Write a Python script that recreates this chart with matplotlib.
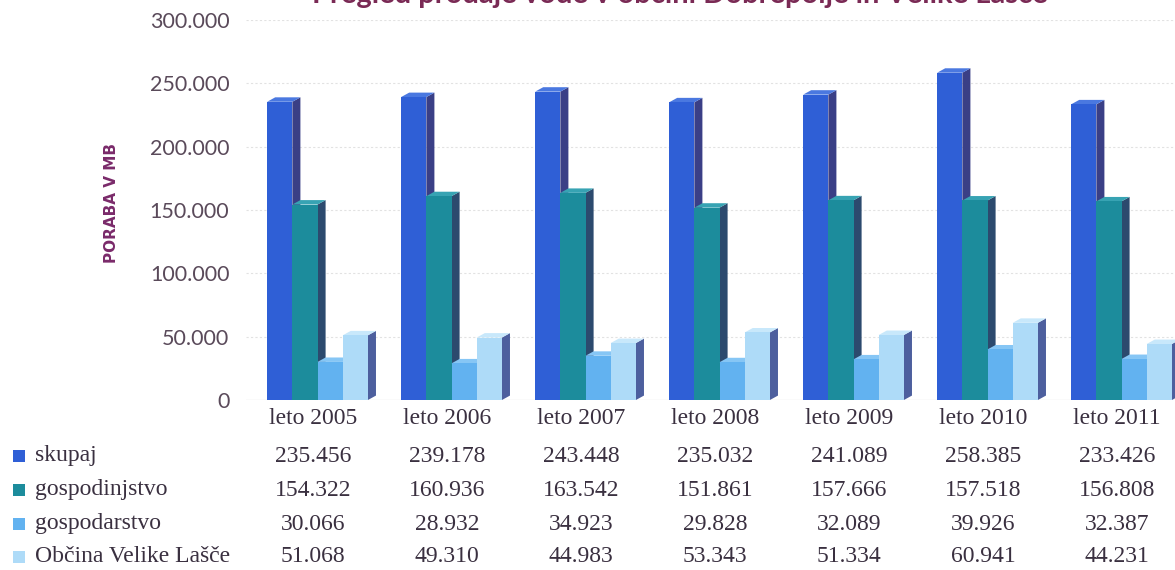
import matplotlib

matplotlib.use("Agg")
import matplotlib.pyplot as plt
import numpy as np
from matplotlib.patches import Polygon, Rectangle
from matplotlib.transforms import blended_transform_factory

years = ["leto 2005", "leto 2006", "leto 2007", "leto 2008",
         "leto 2009", "leto 2010", "leto 2011"]
series_names = ["skupaj", "gospodinjstvo", "gospodarstvo", "Občina Velike Lašče"]
skupaj = [235456, 239178, 243448, 235032, 241089, 258385, 233426]
gospodinjstvo = [154322, 160936, 163542, 151861, 157666, 157518, 156808]
gospodarstvo = [30066, 28932, 34923, 29828, 32089, 39926, 32387]
velike_lasce = [51068, 49310, 44983, 53343, 51334, 60941, 44231]
yticks = [0, 50000, 100000, 150000, 200000, 250000, 300000]

front = ["#2f5fd6", "#1c8c9c", "#62b2f0", "#aedbf8"]
side = ["#3a3f86", "#2c4a6e", "#3d7fc2", "#4d5f9e"]
top = ["#4a78e0", "#37a3b3", "#86c6f5", "#c8e8fb"]

TXT = "#3a3040"
TICK = "#5a4a5a"

fig = plt.figure(figsize=(11.75, 5.7), dpi=100)
ax = fig.add_axes([246 / 1175, 170 / 570, 938 / 1175, 380 / 570])
ax.set_xlim(-0.5, len(years) - 0.5)
ax.set_ylim(0, 300000)

data = [skupaj, gospodinjstvo, gospodarstvo, velike_lasce]
w = 0.188
dx = 0.06
dy = 3500
x = np.arange(len(years))
for s, vals in enumerate(data):
    xs = x + (s - 1.5) * w + 0.034
    z = 3 + s * 3
    bars = ax.bar(xs, vals, w, color=front[s], zorder=z, linewidth=0)
    for b in bars:
        x0 = b.get_x()
        x1 = x0 + b.get_width()
        h = b.get_height()
        ax.add_patch(Polygon([(x1, 0), (x1 + dx, dy), (x1 + dx, h + dy), (x1, h)],
                             closed=True, color=side[s], zorder=z - 1, lw=0))
        ax.add_patch(Polygon([(x0, h), (x0 + dx, h + dy), (x1 + dx, h + dy), (x1, h)],
                             closed=True, color=top[s], zorder=z - 1, lw=0))

for t in yticks[1:]:
    ax.axhline(t, color="#e2e2e2", lw=0.8, ls=(0, (2, 2)), zorder=0)
ax.axhline(0, color="#e6e6e6", lw=1.0, zorder=0)

for sp in ax.spines.values():
    sp.set_visible(False)
ax.set_xticks([])
ax.set_yticks(yticks)
ax.set_yticklabels([f"{t // 1000}.000" if t else "0" for t in yticks],
                   fontsize=15.5, color=TICK, family="Lato")
ax.tick_params(axis="y", length=0, pad=12)

fig.text(112 / 1175, 1 - 203 / 570, "PORABA V MB", rotation=90, ha="center",
         va="center", fontsize=11, color="#7a2a6a", fontweight="bold",
         family="Liberation Sans Narrow")

fig.text(680 / 1175, 1 - 3 / 570, "Pregled prodaje vode v občini Dobrepolje in Velike Lašče",
         ha="center", va="baseline", fontsize=21, fontweight="bold",
         color="#7a2a55", family="Lato")

# data table under the chart
tr = blended_transform_factory(ax.transData, fig.transFigure)
for i, yr in enumerate(years):
    ax.text(i, 1 - 418 / 570, yr, transform=tr, ha="center", va="center",
            fontsize=17, color=TXT, family="Liberation Serif", clip_on=False)
row_y = [456, 490, 524, 557]
for s, vals in enumerate(data):
    yy = 1 - row_y[s] / 570
    fig.patches.append(Rectangle((13 / 1175, yy - 6 / 570), 12 / 1175, 12 / 570,
                                 transform=fig.transFigure, color=front[s], lw=0))
    fig.text(35 / 1175, yy, series_names[s], ha="left", va="center", fontsize=17,
             color=TXT, family="Liberation Serif")
    for i, v in enumerate(vals):
        ax.text(i, yy, f"{v // 1000}.{v % 1000:03d}", transform=tr, ha="center",
                va="center", fontsize=17, color=TXT, family="Liberation Serif",
                clip_on=False)

fig.savefig("out.png", dpi=100)
